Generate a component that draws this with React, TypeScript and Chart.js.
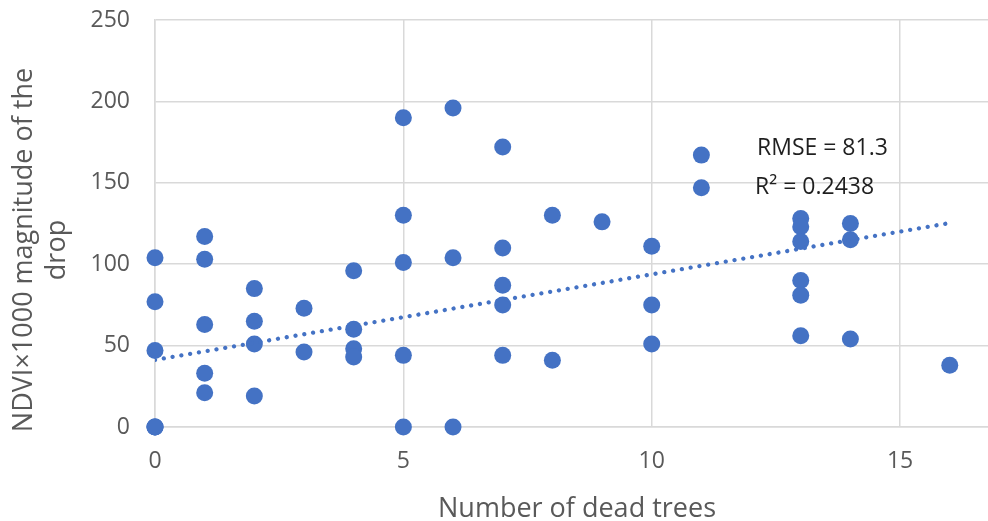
import React, { useEffect, useRef } from "react";
import { Chart, registerables } from "chart.js";

Chart.register(...registerables);

// Number of dead trees per plot (x) and NDVI×1000 drop magnitude (y)
const deadTrees = [
  0, 0, 0, 0, 0, 0,
  1, 1, 1, 1, 1,
  2, 2, 2, 2,
  3, 3,
  4, 4, 4, 4,
  5, 5, 5, 5, 5,
  6, 6, 6,
  7, 7, 7, 7, 7,
  8, 8,
  9,
  10, 10, 10,
  11, 11,
  13, 13, 13, 13, 13, 13,
  14, 14, 14,
  16,
];
const ndviDrop = [
  104, 77, 47, 0, 0, 0,
  117, 103, 63, 33, 21,
  85, 65, 51, 19,
  73, 46,
  96, 60, 48, 43,
  190, 130, 101, 44, 0,
  196, 104, 0,
  172, 110, 87, 75, 44,
  130, 41,
  126,
  111, 75, 51,
  167, 147,
  128, 123, 114, 90, 81, 56,
  125, 115, 54,
  38,
];

// Linear trend line end points
const trendX = [0, 16];
const trendY = [41.2, 125.3];

const xTicks = [0, 5, 10, 15];
const xTitle = "Number of dead trees";
const yTitleLines = ["NDVI×1000 magnitude of the", "drop"];
const statLines = ["RMSE = 81.3", "R² = 0.2438"];

const BLUE = "#4472C4";
const GRID = "#d9d9d9";
const LABEL = "#595959";
const FONT = "'Open Sans', 'Noto Sans', sans-serif";

const textPlugin = {
  id: "axisText",
  afterDraw(chart: any) {
    const { ctx } = chart;
    ctx.save();
    ctx.fillStyle = LABEL;
    ctx.font = `27px ${FONT}`;
    ctx.textAlign = "center";
    ctx.textBaseline = "alphabetic";
    // x-axis title
    ctx.fillText(xTitle, 577, 517);
    // y-axis title, rotated, two lines
    ctx.save();
    ctx.translate(0, 250);
    ctx.rotate(-Math.PI / 2);
    ctx.fillText(yTitleLines[0], 0, 32);
    ctx.fillText(yTitleLines[1], 0, 65);
    ctx.restore();
    // fit statistics
    ctx.fillStyle = "#1f1f1f";
    ctx.font = `23px ${FONT}`;
    ctx.textAlign = "left";
    ctx.fillText(statLines[0], 757, 155);
    ctx.fillText(statLines[1], 755, 194);
    ctx.restore();
  },
};

export default function App() {
  const ref = useRef<HTMLCanvasElement>(null);
  useEffect(() => {
    const points = deadTrees.map((x, i) => ({ x, y: ndviDrop[i] }));
    const trend = trendX.map((x, i) => ({ x, y: trendY[i] }));
    const chart = new Chart(ref.current!, {
      type: "scatter",
      data: {
        datasets: [
          {
            label: "NDVI drop",
            data: points,
            backgroundColor: BLUE,
            borderColor: BLUE,
            pointRadius: 8.5,
            pointHoverRadius: 8.5,
            borderWidth: 0,
            clip: false as any,
            order: 1,
          },
          {
            label: "Trend",
            type: "line",
            data: trend,
            borderColor: BLUE,
            borderWidth: 4.3,
            borderDash: [0.01, 8.9],
            borderCapStyle: "round",
            pointRadius: 0,
            fill: false,
            order: 0,
          } as any,
        ],
      },
      options: {
        animation: false,
        responsive: false,
        layout: { autoPadding: false, padding: { top: 20, right: 0, left: 0, bottom: 0 } },
        plugins: {
          legend: { display: false },
          tooltip: { enabled: false },
        },
        scales: {
          x: {
            type: "linear",
            min: 0,
            max: 16.77,
            afterBuildTicks: (scale: any) => {
              scale.ticks = xTicks.map((v) => ({ value: v }));
            },
            afterFit: (scale: any) => {
              scale.height = 94;
              scale.paddingLeft = 0;
              scale.paddingRight = 0;
            },
            ticks: {
              color: LABEL,
              font: { family: FONT, size: 23 },
              padding: 21,
            },
            grid: { color: GRID, lineWidth: 1.5, drawTicks: false },
            border: { color: GRID, width: 1.5 },
          },
          y: {
            type: "linear",
            min: 0,
            max: 250,
            ticks: {
              stepSize: 50,
              color: LABEL,
              font: { family: FONT, size: 23 },
              padding: 25,
            },
            afterFit: (scale: any) => {
              scale.width = 155;
              scale.paddingTop = 0;
              scale.paddingBottom = 0;
            },
            grid: { color: GRID, lineWidth: 1.5, drawTicks: false },
            border: { color: GRID, width: 1.5 },
          },
        },
      },
      plugins: [textPlugin],
    });
    return () => chart.destroy();
  }, []);
  return (
    <div style={{ position: "fixed", left: 0, top: 0, width: 988, height: 521, background: "#fff" }}>
      <canvas ref={ref} width={988} height={521} />
    </div>
  );
}
